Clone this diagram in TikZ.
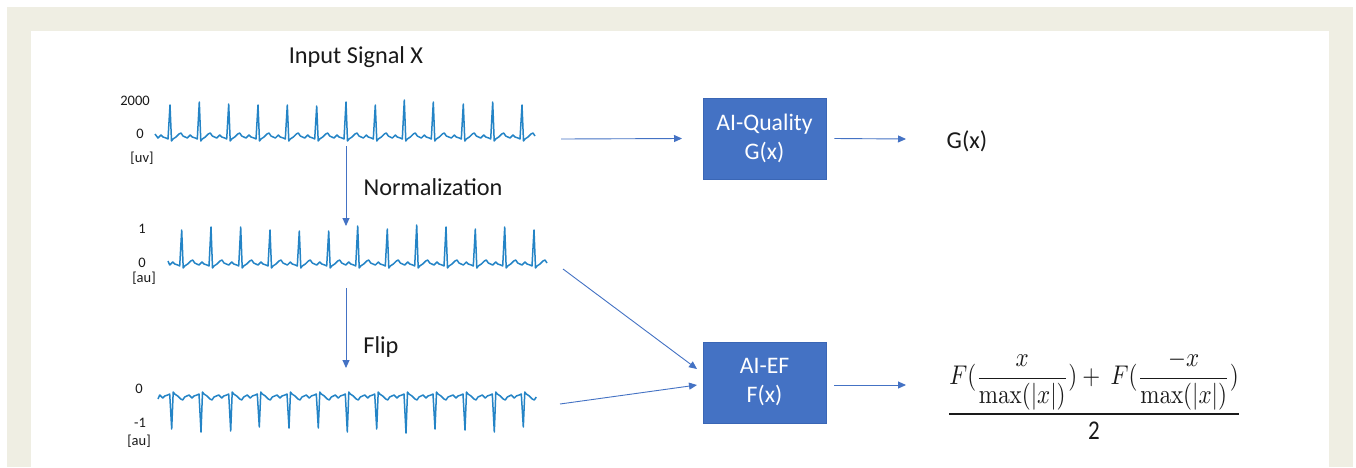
\documentclass[tikz,border=0pt]{standalone}
\usepackage[no-math]{fontspec}
\setmainfont{Carlito}
\usepackage{amsmath}
\usetikzlibrary{arrows.meta}
\definecolor{frame}{HTML}{EFEEE3}
\definecolor{boxblue}{HTML}{4472C4}
\definecolor{boxedge}{HTML}{3A66B5}
\definecolor{ecgblue}{HTML}{2484C6}
\definecolor{txt}{HTML}{1A1A1A}
\newcommand{\ecgtrace}[4]{%
  \draw[ecg] (#1,{#2-3*(#3)}) \foreach \rx/\hh in {#4} {
    -- ({\rx-12},{#2+1*(#3)}) -- ({\rx-9},{#2-2*(#3)}) -- ({\rx-7},{#2}) -- ({\rx-4},{#2+1*(#3)})
    -- ({\rx-2},{#2+2*(#3)}) -- (\rx,{#2-\hh*(#3)}) -- ({\rx+1.5},{#2+4*(#3)}) -- ({\rx+3},{#2+2*(#3)})
    -- ({\rx+6},{#2}) -- ({\rx+9},{#2-3*(#3)}) -- ({\rx+11},{#2-4*(#3)}) -- ({\rx+13},{#2-1*(#3)})
  };
}
\begin{document}
\begin{tikzpicture}[x=1pt,y=-1pt,
  ecg/.style={ecgblue,line width=1.5pt,line join=round},
  conn/.style={boxblue,line width=0.9pt,-{Triangle[length=8pt,width=7pt]}},
  aibox/.style={fill=boxblue,draw=boxedge,line width=0.8pt,minimum width=123pt,minimum height=81pt,text=white,align=center,font=\fontsize{23.7}{29}\selectfont,inner sep=0pt},
  big/.style={text=txt,font=\fontsize{24.3}{28}\selectfont,inner sep=0pt},
  axl/.style={text=txt,font=\fontsize{14.5}{16}\selectfont,inner sep=0pt}]
\useasboundingbox (0,0) rectangle (1356,467);
\fill[white] (0,0) rectangle (1356,467);
\fill[frame] (7,7) rectangle (1353,467);
\fill[white] (31,31) rectangle (1329,467);

% titles
\node[big] (title) at (356,57) {Input Signal X};
\node[big] (norm) at (433,187) {Normalization};
\node[big] (flip) at (381,347) {Flip};

% axis labels
\node[axl] (l1a) at (135,101) {2000};
\node[axl] (l1b) at (140,134) {0};
\node[axl] (l1c) at (142,158) {[uv]};
\node[axl] (l2a) at (142,229) {1};
\node[axl] (l2b) at (142,263) {0};
\node[axl] (l2c) at (144,278) {[au]};
\node[axl] (l3a) at (139,389) {0};
\node[axl] (l3b) at (140,423) {-1};
\node[axl] (l3c) at (139,441) {[au]};

% signals
\ecgtrace{155}{137}{1}{170/32,199.3/35,228.7/33,258/32,287.3/32,316.7/31,346/35,375.3/32,404.3/37,433.3/35,463.3/33,492.7/35,522/32}
\ecgtrace{168}{264}{1}{181.7/34,211/37,240.7/37,270/34,299.3/33,328.7/33,357.7/38,387.3/35,416.7/39,446/37,475.3/35,504.7/37,534/34}
\ecgtrace{158}{396}{-1}{171.7/33,201/36,230.7/35,259.3/31,289/32,318.3/32,347.3/36,376.7/33,406/37,435/33,465/34,494.3/36,523.3/31}

% coordinates for connector ends
\coordinate (s1out) at (561,139);
\coordinate (s2out) at (563,269);
\coordinate (s3out) at (560,404);
\coordinate (v1a) at (346,146);
\coordinate (v1b) at (346,226);
\coordinate (v2a) at (346,288);
\coordinate (v2b) at (346,368);

% boxes
\node[aibox] (q) at (764.5,138.5) {AI-Quality\\G(x)};
\node[aibox] (ef) at (764.5,382.5) {AI-EF\\F(x)};

% outputs
\node[big] (gx) at (967,141) {G(x)};
\node[text=txt,inner sep=0pt] (fx) at (1094,395) {\resizebox{295pt}{70pt}{$\dfrac{F(\dfrac{x}{\max(|x|)}) +\ F(\dfrac{-x}{\max(|x|)})}{\text{2}}$}};

% connectors
\draw[conn] (v1a) -- (v1b);
\draw[conn] (v2a) -- (v2b);
\draw[conn] (s1out) -- (q.west -| 682,0);
\draw[conn] (q.east) ++(8,0) coordinate (qo) (qo) -- (906,139) coordinate (qe);
\draw[conn] (s2out) -- (697,369) coordinate (efin1);
\draw[conn] (s3out) -- (697,385) coordinate (efin2);
\draw[conn] (834,385) coordinate (efo) -- (906,385) coordinate (efe);
\end{tikzpicture}
\end{document}
